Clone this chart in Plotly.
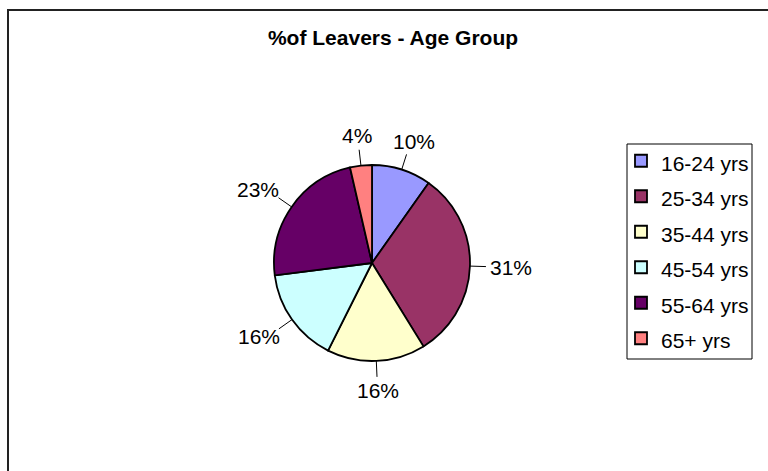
import math
import plotly.graph_objects as go

title_text = "%of Leavers - Age Group"
categories = ["16-24 yrs", "25-34 yrs", "35-44 yrs", "45-54 yrs", "55-64 yrs", "65+ yrs"]
values = [9.8, 31.4, 16.2, 15.6, 23.4, 3.6]
colors = ["#9999FF", "#993366", "#FFFFCC", "#CCFFFF", "#660066", "#FF8080"]

W, H = 768, 471
FONT = "Liberation Sans, Arial, sans-serif"
LABEL_SIZE = 21

# pie geometry (pixels)
CX, CY, R = 372, 263, 98

legend_labels = [f'<span style="font-size:21px">{c}</span>' for c in categories]

fig = go.Figure(
    go.Pie(
        labels=legend_labels,
        values=values,
        sort=False,
        direction="clockwise",
        rotation=0,
        marker=dict(colors=colors, line=dict(color="black", width=1.8)),
        textinfo="none",
        domain=dict(x=[(CX - R) / W, (CX + R) / W], y=[1 - (CY + R) / H, 1 - (CY - R) / H]),
        hoverinfo="label+percent",
    )
)

# percentage labels with leader lines, positioned from the slice mid-angles
total = sum(values)
annotations = []
shapes = []
cum = 0.0
for v in values:
    mid = (cum + v / 2) / total * 2 * math.pi
    cum += v
    ux, uy = math.sin(mid), -math.cos(mid)
    txt = f"{round(v / total * 100)}%"
    hw = len(txt) * LABEL_SIZE * 0.33
    hh = 10
    lx = CX + (R + 20) * ux + hw * ux
    ly = CY + (R + 20) * uy + hh * uy
    annotations.append(
        dict(
            x=lx / W, y=1 - ly / H, xref="paper", yref="paper",
            text=txt, showarrow=False, xanchor="center", yanchor="middle",
            font=dict(family=FONT, size=LABEL_SIZE, color="black"),
        )
    )
    shapes.append(
        dict(
            type="line", xref="paper", yref="paper",
            x0=(CX + R * ux) / W, y0=1 - (CY + R * uy) / H,
            x1=(CX + (R + 16) * ux) / W, y1=1 - (CY + (R + 16) * uy) / H,
            line=dict(color="black", width=1),
        )
    )

# chart frame
shapes.append(
    dict(
        type="rect", xref="paper", yref="paper",
        x0=8 / W, x1=1.05, y0=-0.05, y1=1 - 10 / H,
        line=dict(color="#222222", width=2),
        fillcolor="rgba(0,0,0,0)", layer="below",
    )
)
# legend frame
shapes.append(
    dict(
        type="rect", xref="paper", yref="paper",
        x0=627 / W, x1=752 / W, y0=1 - 359 / H, y1=1 - 144 / H,
        line=dict(color="black", width=1),
        fillcolor="rgba(0,0,0,0)", layer="below",
    )
)

fig.update_layout(
    width=W,
    height=H,
    autosize=False,
    margin=dict(l=0, r=0, t=0, b=0),
    paper_bgcolor="white",
    plot_bgcolor="white",
    title=dict(
        text=f"<b>{title_text}</b>",
        x=393 / W,
        xanchor="center",
        y=1 - 38 / H,
        yanchor="middle",
        yref="paper",
        font=dict(family=FONT, size=21, color="black"),
    ),
    legend=dict(
        x=621 / W,
        xanchor="left",
        y=1 - 138 / H,
        yanchor="top",
        borderwidth=0,
        bgcolor="rgba(0,0,0,0)",
        font=dict(family=FONT, size=25, color="black"),
        traceorder="normal",
    ),
    annotations=annotations,
    shapes=shapes,
)

fig.write_html(
    "out.html",
    config={"displayModeBar": False},
    post_script="document.body.style.margin='0';document.body.style.padding='0';",
)
